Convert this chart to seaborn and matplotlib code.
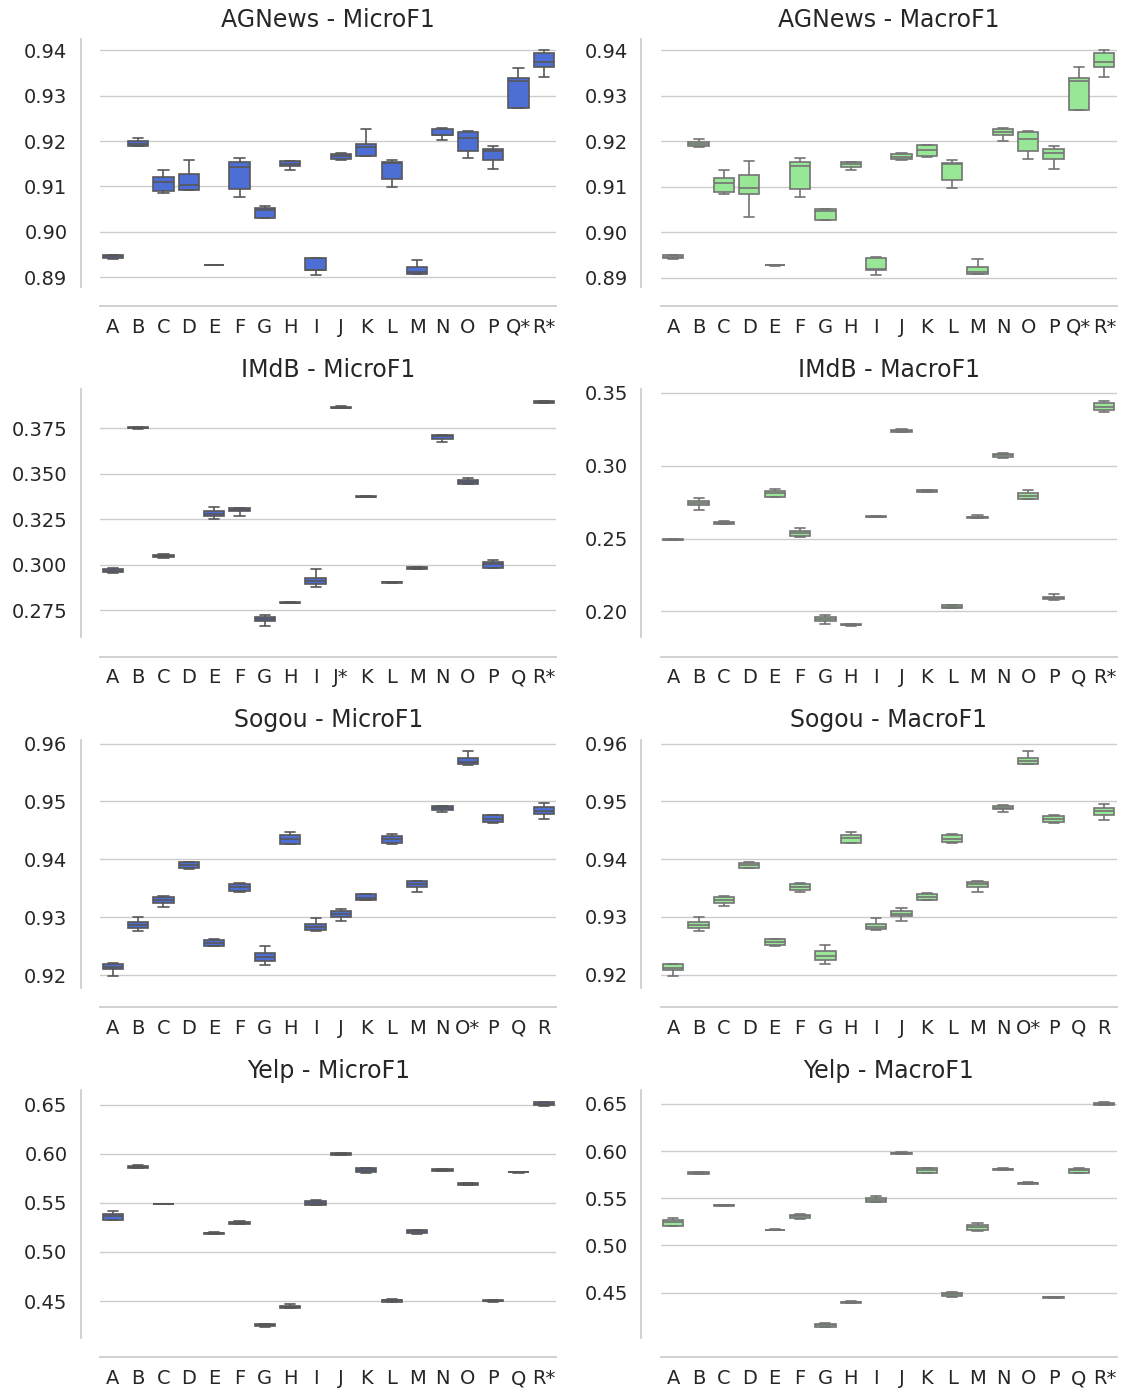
import matplotlib
matplotlib.use("Agg")
import matplotlib.pyplot as plt
import seaborn as sns
import pandas as pd
import numpy as np

categories = list("ABCDEFGHIJKLMNOPQR")

# ---- AGNews ----
agnews_micro = [
    [0.8940, 0.8943, 0.8946, 0.8949, 0.8950],
    [0.9188, 0.9189, 0.9194, 0.9200, 0.9206],
    [0.9085, 0.9089, 0.9109, 0.9120, 0.9137],
    [0.9092, 0.9092, 0.9103, 0.9127, 0.9158],
    [0.8926, 0.8927, 0.8927, 0.8927, 0.8928],
    [0.9077, 0.9094, 0.9142, 0.9154, 0.9162],
    [0.9030, 0.9030, 0.9048, 0.9052, 0.9057],
    [0.9136, 0.9146, 0.9150, 0.9155, 0.9156],
    [0.8904, 0.8915, 0.8917, 0.8942, 0.8943],
    [0.9158, 0.9161, 0.9167, 0.9172, 0.9174],
    [0.9166, 0.9167, 0.9186, 0.9193, 0.9227],
    [0.9099, 0.9117, 0.9151, 0.9154, 0.9158],
    [0.8906, 0.8907, 0.8911, 0.8922, 0.8938],
    [0.9202, 0.9213, 0.9214, 0.9227, 0.9228],
    [0.9162, 0.9178, 0.9207, 0.9221, 0.9222],
    [0.9139, 0.9158, 0.9177, 0.9183, 0.9188],
    [0.9272, 0.9272, 0.9332, 0.9339, 0.9360],
    [0.9341, 0.9363, 0.9374, 0.9394, 0.9400],
]
agnews_macro = [
    [0.8940, 0.8943, 0.8946, 0.8949, 0.8950],
    [0.9188, 0.9189, 0.9193, 0.9199, 0.9204],
    [0.9085, 0.9089, 0.9108, 0.9120, 0.9137],
    [0.9034, 0.9085, 0.9098, 0.9125, 0.9156],
    [0.8926, 0.8927, 0.8927, 0.8927, 0.8928],
    [0.9077, 0.9095, 0.9145, 0.9154, 0.9164],
    [0.9027, 0.9027, 0.9046, 0.9050, 0.9052],
    [0.9136, 0.9144, 0.9150, 0.9154, 0.9155],
    [0.8905, 0.8916, 0.8918, 0.8943, 0.8946],
    [0.9158, 0.9160, 0.9166, 0.9171, 0.9174],
    [0.9166, 0.9167, 0.9180, 0.9191, 0.9192],
    [0.9097, 0.9115, 0.9149, 0.9152, 0.9158],
    [0.8908, 0.8909, 0.8913, 0.8923, 0.8941],
    [0.9200, 0.9214, 0.9220, 0.9227, 0.9228],
    [0.9162, 0.9178, 0.9205, 0.9221, 0.9222],
    [0.9139, 0.9161, 0.9175, 0.9182, 0.9189],
    [0.9268, 0.9268, 0.9333, 0.9340, 0.9363],
    [0.9342, 0.9364, 0.9374, 0.9394, 0.9400],
]

# ---- IMdB ----
imdb_micro = [
    [0.2955, 0.2960, 0.2967, 0.2975, 0.2980],
    [0.3745, 0.3748, 0.3752, 0.3755, 0.3758],
    [0.3035, 0.3040, 0.3045, 0.3055, 0.3060],
    None,
    [0.3250, 0.3265, 0.3278, 0.3297, 0.3315],
    [0.3266, 0.3292, 0.3300, 0.3312, 0.3313],
    [0.2664, 0.2688, 0.2700, 0.2712, 0.2723],
    [0.2790, 0.2791, 0.2792, 0.2793, 0.2794],
    [0.2879, 0.2893, 0.2911, 0.2929, 0.2974],
    [0.3858, 0.3860, 0.3862, 0.3864, 0.3873],
    [0.3372, 0.3373, 0.3374, 0.3375, 0.3376],
    [0.2900, 0.2901, 0.2902, 0.2903, 0.2904],
    [0.2975, 0.2976, 0.2981, 0.2986, 0.2988],
    [0.3673, 0.3692, 0.3704, 0.3710, 0.3712],
    [0.3442, 0.3443, 0.3453, 0.3467, 0.3478],
    [0.2981, 0.2981, 0.3003, 0.3012, 0.3027],
    None,
    [0.3885, 0.3886, 0.3893, 0.3899, 0.3900],
]
imdb_macro = [
    [0.2488, 0.2490, 0.2492, 0.2494, 0.2495],
    [0.2698, 0.2727, 0.2744, 0.2760, 0.2779],
    [0.2600, 0.2602, 0.2609, 0.2615, 0.2617],
    None,
    [0.2786, 0.2788, 0.2811, 0.2824, 0.2838],
    [0.2513, 0.2520, 0.2538, 0.2553, 0.2570],
    [0.1913, 0.1932, 0.1947, 0.1961, 0.1976],
    [0.1900, 0.1903, 0.1908, 0.1911, 0.1913],
    [0.2646, 0.2648, 0.2650, 0.2652, 0.2653],
    [0.3232, 0.3234, 0.3241, 0.3246, 0.3250],
    [0.2818, 0.2820, 0.2825, 0.2830, 0.2835],
    [0.2020, 0.2022, 0.2032, 0.2042, 0.2046],
    [0.2638, 0.2640, 0.2646, 0.2650, 0.2662],
    [0.3056, 0.3058, 0.3074, 0.3084, 0.3090],
    [0.2769, 0.2770, 0.2790, 0.2812, 0.2833],
    [0.2080, 0.2082, 0.2092, 0.2100, 0.2119],
    None,
    [0.3372, 0.3380, 0.3406, 0.3430, 0.3447],
]

# ---- Sogou ----
sogou_micro = [
    [0.9198, 0.9210, 0.9214, 0.9220, 0.9221],
    [0.9277, 0.9281, 0.9286, 0.9292, 0.9301],
    [0.9318, 0.9324, 0.9330, 0.9335, 0.9336],
    [0.9384, 0.9385, 0.9391, 0.9395, 0.9396],
    [0.9250, 0.9251, 0.9256, 0.9261, 0.9262],
    [0.9343, 0.9346, 0.9353, 0.9358, 0.9359],
    [0.9217, 0.9225, 0.9231, 0.9238, 0.9250],
    [0.9427, 0.9427, 0.9435, 0.9442, 0.9447],
    [0.9277, 0.9278, 0.9283, 0.9288, 0.9298],
    [0.9294, 0.9301, 0.9306, 0.9311, 0.9315],
    [0.9329, 0.9330, 0.9334, 0.9340, 0.9341],
    [0.9427, 0.9428, 0.9435, 0.9441, 0.9444],
    [0.9343, 0.9353, 0.9358, 0.9362, 0.9363],
    [0.9482, 0.9486, 0.9489, 0.9492, 0.9493],
    [0.9563, 0.9564, 0.9569, 0.9575, 0.9587],
    [0.9463, 0.9465, 0.9470, 0.9476, 0.9477],
    None,
    [0.9469, 0.9479, 0.9484, 0.9490, 0.9497],
]
sogou_macro = [
    [0.9197, 0.9208, 0.9212, 0.9218, 0.9219],
    [0.9276, 0.9281, 0.9286, 0.9291, 0.9300],
    [0.9318, 0.9324, 0.9330, 0.9335, 0.9336],
    [0.9384, 0.9385, 0.9390, 0.9394, 0.9395],
    [0.9250, 0.9251, 0.9256, 0.9261, 0.9262],
    [0.9343, 0.9346, 0.9352, 0.9357, 0.9358],
    [0.9218, 0.9226, 0.9232, 0.9240, 0.9251],
    [0.9428, 0.9428, 0.9436, 0.9442, 0.9447],
    [0.9278, 0.9279, 0.9283, 0.9288, 0.9298],
    [0.9293, 0.9301, 0.9305, 0.9310, 0.9315],
    [0.9329, 0.9330, 0.9334, 0.9340, 0.9341],
    [0.9428, 0.9429, 0.9435, 0.9441, 0.9444],
    [0.9343, 0.9352, 0.9357, 0.9361, 0.9362],
    [0.9482, 0.9486, 0.9489, 0.9492, 0.9493],
    [0.9564, 0.9565, 0.9570, 0.9575, 0.9587],
    [0.9463, 0.9465, 0.9469, 0.9475, 0.9476],
    None,
    [0.9468, 0.9477, 0.9483, 0.9488, 0.9495],
]

# ---- Yelp ----
yelp_micro = [
    [0.5322, 0.5322, 0.5363, 0.5390, 0.5414],
    [0.5855, 0.5858, 0.5866, 0.5872, 0.5880],
    [0.5488, 0.5489, 0.5490, 0.5491, 0.5492],
    None,
    [0.5180, 0.5182, 0.5192, 0.5198, 0.5200],
    [0.5280, 0.5285, 0.5298, 0.5308, 0.5312],
    [0.4240, 0.4245, 0.4257, 0.4265, 0.4272],
    [0.4428, 0.4433, 0.4445, 0.4450, 0.4468],
    [0.5473, 0.5475, 0.5497, 0.5514, 0.5524],
    [0.5988, 0.5990, 0.5997, 0.6003, 0.6005],
    [0.5805, 0.5810, 0.5832, 0.5852, 0.5856],
    [0.4490, 0.4493, 0.4507, 0.4515, 0.4518],
    [0.5180, 0.5195, 0.5210, 0.5222, 0.5225],
    [0.5825, 0.5828, 0.5835, 0.5840, 0.5843],
    [0.5680, 0.5683, 0.5690, 0.5697, 0.5700],
    [0.4495, 0.4498, 0.4503, 0.4508, 0.4510],
    [0.5808, 0.5810, 0.5812, 0.5814, 0.5815],
    [0.6490, 0.6495, 0.6510, 0.6522, 0.6530],
]
yelp_macro = [
    [0.5205, 0.5208, 0.5244, 0.5272, 0.5290],
    [0.5755, 0.5760, 0.5770, 0.5780, 0.5783],
    [0.5422, 0.5423, 0.5425, 0.5427, 0.5428],
    None,
    [0.5160, 0.5162, 0.5165, 0.5168, 0.5170],
    [0.5285, 0.5288, 0.5308, 0.5323, 0.5330],
    [0.4138, 0.4140, 0.4158, 0.4172, 0.4178],
    [0.4388, 0.4390, 0.4400, 0.4405, 0.4408],
    [0.5458, 0.5458, 0.5482, 0.5500, 0.5528],
    [0.5968, 0.5972, 0.5980, 0.5985, 0.5990],
    [0.5765, 0.5768, 0.5795, 0.5820, 0.5822],
    [0.4458, 0.4460, 0.4482, 0.4497, 0.4502],
    [0.5148, 0.5165, 0.5190, 0.5220, 0.5237],
    [0.5800, 0.5803, 0.5810, 0.5815, 0.5818],
    [0.5650, 0.5653, 0.5660, 0.5665, 0.5668],
    [0.4445, 0.4447, 0.4450, 0.4452, 0.4454],
    [0.5770, 0.5773, 0.5795, 0.5812, 0.5817],
    [0.6485, 0.6490, 0.6504, 0.6515, 0.6525],
]

# tick labels (asterisk marks best model)
labels_agnews = list("ABCDEFGHIJKLMNOP") + ["Q*", "R*"]
labels_imdb_micro = list("ABCDEFGHI") + ["J*"] + list("KLMNOPQ") + ["R*"]
labels_imdb_macro = list("ABCDEFGHIJKLMNOPQ") + ["R*"]
labels_sogou = list("ABCDEFGHIJKLMN") + ["O*"] + list("PQR")
labels_yelp = list("ABCDEFGHIJKLMNOPQ") + ["R*"]

yticks_agnews = [0.89, 0.90, 0.91, 0.92, 0.93, 0.94]
yticks_imdb_micro = [0.275, 0.300, 0.325, 0.350, 0.375]
yticks_imdb_macro = [0.20, 0.25, 0.30, 0.35]
yticks_sogou = [0.92, 0.93, 0.94, 0.95, 0.96]
yticks_yelp = [0.45, 0.50, 0.55, 0.60, 0.65]

panels = [
    ("AGNews - MicroF1", agnews_micro, labels_agnews, yticks_agnews, "{:.2f}"),
    ("AGNews - MacroF1", agnews_macro, labels_agnews, yticks_agnews, "{:.2f}"),
    ("IMdB - MicroF1", imdb_micro, labels_imdb_micro, yticks_imdb_micro, "{:.3f}"),
    ("IMdB - MacroF1", imdb_macro, labels_imdb_macro, yticks_imdb_macro, "{:.2f}"),
    ("Sogou - MicroF1", sogou_micro, labels_sogou, yticks_sogou, "{:.2f}"),
    ("Sogou - MacroF1", sogou_macro, labels_sogou, yticks_sogou, "{:.2f}"),
    ("Yelp - MicroF1", yelp_micro, labels_yelp, yticks_yelp, "{:.2f}"),
    ("Yelp - MacroF1", yelp_macro, labels_yelp, yticks_yelp, "{:.2f}"),
]

sns.set_theme(style="whitegrid")
plt.rcParams["font.family"] = ["DejaVu Sans"]

fig, axes = plt.subplots(4, 2, figsize=(11.24, 13.93), dpi=100)
plt.subplots_adjust(left=0.089, right=0.9938, top=0.972, bottom=0.0395,
                    wspace=0.228, hspace=0.415)

for i, (title, series, xlabels, yticks, fmt) in enumerate(panels):
    ax = axes.flat[i]
    rows = []
    for cat, vals in zip(categories, series):
        if vals is None:
            continue
        for v in vals:
            rows.append({"model": cat, "score": v})
    df = pd.DataFrame(rows)
    color = "royalblue" if i % 2 == 0 else "lightgreen"
    sns.boxplot(data=df, x="model", y="score", order=categories, color=color,
                width=0.8, saturation=0.85, linewidth=1.2, whis=(0, 100),
                showfliers=False, ax=ax)
    ax.set_xlabel("")
    ax.set_ylabel("")
    ax.set_title(title, fontsize=17, pad=9)
    ax.set_xticks(range(len(categories)))
    ax.set_xticklabels(xlabels)
    ax.set_yticks(yticks)
    ax.set_yticklabels([fmt.format(t) for t in yticks])
    ax.tick_params(axis="x", labelsize=14, pad=2.5)
    ax.tick_params(axis="y", labelsize=14, pad=3.5)
    sns.despine(ax=ax, offset=14)

fig.savefig("out.png", dpi=100)
